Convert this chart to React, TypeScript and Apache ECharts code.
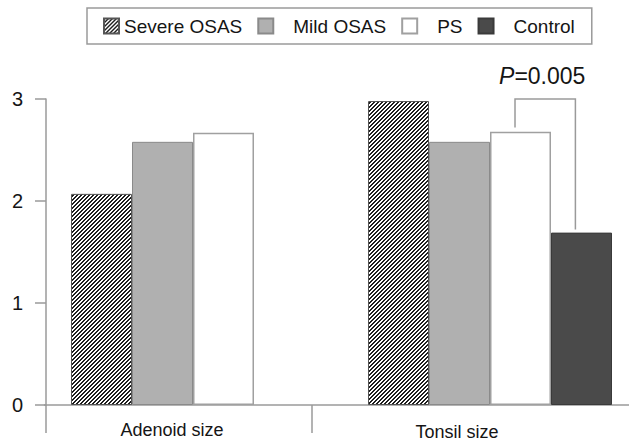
import React, { useEffect, useRef } from "react";
import * as echarts from "echarts";

// ---- data ----
const categories = ["Adenoid size", "Tonsil size"];
const seriesNames = ["Severe OSAS", "Mild OSAS", "PS", "Control"];
const severeOSAS = [2.07, 2.98];
const mildOSAS = [2.58, 2.58];
const psValues = [2.67, 2.68];
const controlValues: (number | null)[] = [null, 1.69];
const yMin = 0;
const yMax = 3;
const yInterval = 1;
// significance bracket: [category index, top of bracket, left leg end, right leg end]
const bracket = [[1, 3.0, 2.72, 1.72]];
const pText = "P=0.005";

const FONT = "'Liberation Sans', Arial, Helvetica, sans-serif";
const AXIS_GRAY = "#9a9a9a";
const BAR_W = 61;

function makeHatch(): string {
  const c = document.createElement("canvas");
  c.width = 4;
  c.height = 4;
  const ctx = c.getContext("2d")!;
  ctx.fillStyle = "#ffffff";
  ctx.fillRect(0, 0, 4, 4);
  ctx.fillStyle = "#1e1e1e";
  for (let y = 0; y < 4; y++) {
    const x0 = (3 - y + 4) % 4;
    const x1 = (x0 + 1) % 4;
    ctx.fillRect(x0, y, 1, 1);
    ctx.fillRect(x1, y, 1, 1);
  }
  return c.toDataURL();
}

export default function App() {
  const ref = useRef<HTMLDivElement>(null);

  useEffect(() => {
    document.body.style.margin = "0";
    if (!ref.current) return;
    const chart = echarts.init(ref.current, undefined, { renderer: "svg" });
    const hatch = makeHatch();

    const option: any = {
      animation: false,
      backgroundColor: "#ffffff",
      textStyle: { fontFamily: FONT },
      legend: {
        data: seriesNames,
        left: 87,
        top: 8,
        orient: "horizontal",
        icon: "rect",
        itemWidth: 15,
        itemHeight: 15,
        itemGap: 15,
        padding: [8, 17, 8, 16],
        borderColor: AXIS_GRAY,
        borderWidth: 1.5,
        selectedMode: false,
        formatter: (name: string) =>
          name === seriesNames[0] ? `{a|${name}}` : `{b|${name}}`,
        textStyle: {
          fontFamily: FONT,
          fontSize: 19,
          color: "#151515",
          lineHeight: 20,
          rich: {
            a: { fontFamily: FONT, fontSize: 19, color: "#151515", padding: [0, 0, 0, 0] },
            b: { fontFamily: FONT, fontSize: 19, color: "#151515", padding: [0, 0, 0, 15] },
          },
        },
      },
      grid: [
        // bars
        { left: 44.5, width: 594, top: 99, bottom: 37, containLabel: false, outerBoundsMode: "none" },
        // visible y axis + adenoid label + divider ticks
        { left: 46, width: 266, top: 99, bottom: 37, containLabel: false, outerBoundsMode: "none" },
        // tonsil label
        { left: 312, width: 290, top: 99, bottom: 37, containLabel: false, outerBoundsMode: "none" },
      ],
      xAxis: [
        {
          gridIndex: 0,
          type: "category",
          data: categories,
          axisLine: { show: true, lineStyle: { color: AXIS_GRAY, width: 1.5 } },
          axisTick: { show: false },
          axisLabel: { show: false },
          splitLine: { show: false },
        },
        {
          gridIndex: 1,
          type: "category",
          data: [categories[0]],
          axisLine: { show: false },
          axisTick: { show: true, length: 28, lineStyle: { color: AXIS_GRAY, width: 1.5 } },
          axisLabel: {
            show: true,
            margin: 16,
            fontSize: 18,
            color: "#151515",
            fontFamily: FONT,
            formatter: (v: string) => `{t|${v}}`,
            rich: { t: { fontSize: 18, fontFamily: FONT, color: "#151515", padding: [0, 14, 0, 0] } },
          },
          splitLine: { show: false },
        },
        {
          gridIndex: 2,
          type: "category",
          data: [categories[1]],
          axisLine: { show: false },
          axisTick: { show: false },
          axisLabel: { show: true, margin: 18, fontSize: 18, color: "#151515", fontFamily: FONT },
          splitLine: { show: false },
        },
      ],
      yAxis: [
        { gridIndex: 0, type: "value", min: yMin, max: yMax, interval: yInterval, show: false },
        {
          gridIndex: 1,
          type: "value",
          min: yMin,
          max: yMax,
          interval: yInterval,
          axisLine: { show: true, lineStyle: { color: AXIS_GRAY, width: 1.5 } },
          axisTick: { show: true, inside: false, length: 11, lineStyle: { color: AXIS_GRAY, width: 1.5 } },
          axisLabel: { show: true, margin: 23, fontSize: 20, color: "#151515", fontFamily: FONT },
          splitLine: { show: false },
        },
        { gridIndex: 2, type: "value", min: yMin, max: yMax, interval: yInterval, show: false },
      ],
      series: [
        {
          name: seriesNames[0],
          type: "bar",
          xAxisIndex: 0,
          yAxisIndex: 0,
          data: severeOSAS,
          barWidth: BAR_W,
          barGap: "0%",
          itemStyle: {
            color: { image: hatch, repeat: "repeat", imageWidth: 4, imageHeight: 4 },
            borderColor: "#555555",
            borderWidth: 1,
          },
        },
        {
          name: seriesNames[1],
          type: "bar",
          xAxisIndex: 0,
          yAxisIndex: 0,
          data: mildOSAS,
          barWidth: BAR_W,
          barGap: "0%",
          itemStyle: { color: "#b0b0b0", borderColor: "#8a8a8a", borderWidth: 1 },
        },
        {
          name: seriesNames[2],
          type: "bar",
          xAxisIndex: 0,
          yAxisIndex: 0,
          data: psValues,
          barWidth: BAR_W,
          barGap: "0%",
          itemStyle: { color: "#ffffff", borderColor: "#a0a0a0", borderWidth: 1.5 },
        },
        {
          name: seriesNames[3],
          type: "bar",
          xAxisIndex: 0,
          yAxisIndex: 0,
          data: controlValues,
          barWidth: BAR_W,
          barGap: "0%",
          itemStyle: { color: "#4a4a4a", borderColor: "#3a3a3a", borderWidth: 1 },
        },
        {
          type: "custom",
          xAxisIndex: 0,
          yAxisIndex: 0,
          data: bracket,
          encode: { x: 0, y: 1 },
          silent: true,
          clip: false,
          renderItem: (params: any, api: any) => {
            const cat = api.value(0);
            const top = api.value(1);
            const lEnd = api.value(2);
            const rEnd = api.value(3);
            const c = api.coord([cat, top]);
            const yl = api.coord([cat, lEnd])[1];
            const yr = api.coord([cat, rEnd])[1];
            const xl = c[0] + BAR_W * 0.41;
            const xr = c[0] + BAR_W * 1.4;
            return {
              type: "group",
              children: [
                {
                  type: "polyline",
                  shape: { points: [[xl, yl], [xl, c[1]], [xr, c[1]], [xr, yr]] },
                  style: { stroke: AXIS_GRAY, fill: "none", lineWidth: 1.5 },
                },
                {
                  type: "text",
                  x: (xl + xr) / 2 - 3,
                  y: c[1] - 23,
                  style: {
                    text: `{i|${pText.charAt(0)}}{n|${pText.slice(1)}}`,
                    align: "center",
                    verticalAlign: "middle",
                    fontFamily: FONT,
                    fontSize: 23,
                    fill: "#151515",
                    rich: {
                      i: { fontStyle: "italic", fontSize: 23, fontFamily: FONT, fill: "#151515" },
                      n: { fontSize: 23, fontFamily: FONT, fill: "#151515" },
                    },
                  },
                },
              ],
            };
          },
        },
      ],
    };

    chart.setOption(option);
    return () => {
      chart.dispose();
    };
  }, []);

  return <div ref={ref} style={{ width: 629, height: 442 }} />;
}
